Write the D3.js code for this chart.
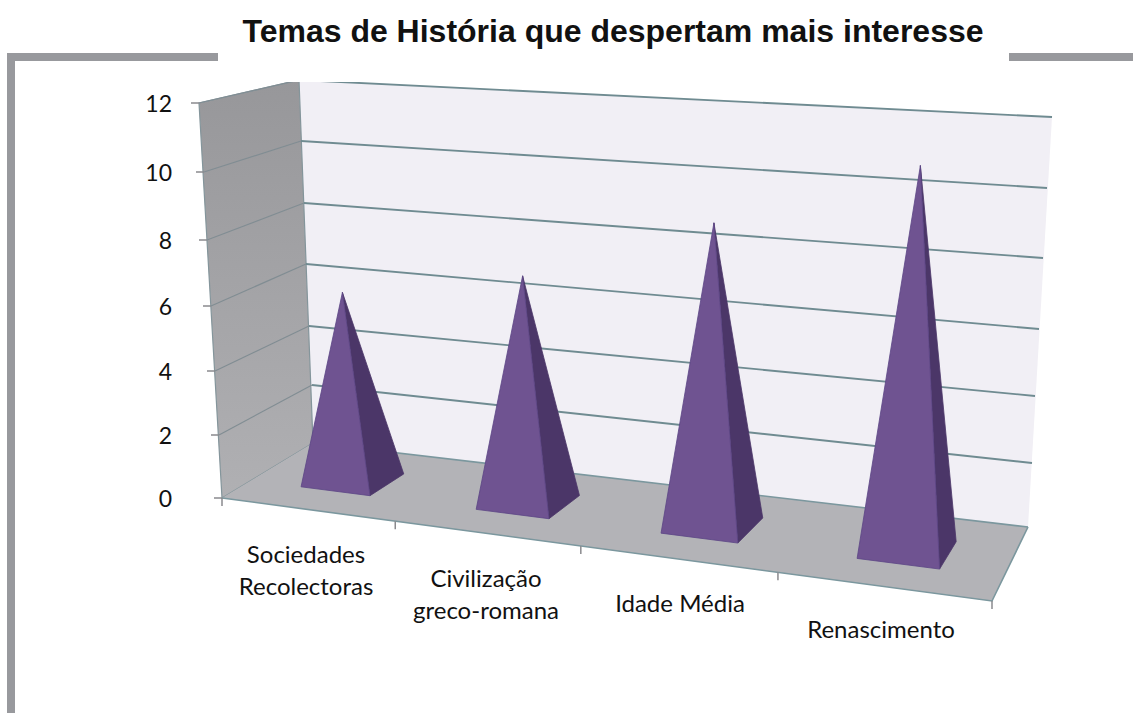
<!DOCTYPE html>
<html><head><meta charset="utf-8">
<script src="https://cdn.jsdelivr.net/npm/d3@7"></script>
<style>html,body{margin:0;background:#fff}svg{display:block}</style></head>
<body><svg id="c" width="1133" height="713"></svg>
<script>
const categories = [["Sociedades","Recolectoras"],["Civilização","greco-romana"],["Idade Média"],["Renascimento"]];
const values = [6, 7, 9, 11];
const yTicks = [0,2,4,6,8,10,12];
const title = "Temas de História que despertam mais interesse";

const svg = d3.select("#c");
const defs = svg.append("defs");
const ticksDomain = yTicks;
const corner = (xs, ys) => ({x:d3.scaleLinear().domain(ticksDomain).range(xs), y:d3.scaleLinear().domain(ticksDomain).range(ys)});
const FL = corner([222,219,215,211,207,204,199],[498,435,371,306,240,172,103]);
const BL = corner([313,312,309,306,304,301,299],[443,385,326,264,203,141,80]);
const BR = corner([1028,1032,1035,1039,1043,1047,1052],[527,463,396,329,258,188,117]);
const FR = corner([992,996,1000,1005,1009,1013,1018],[601,530,458,384,309,232,155]);
const catIdx = [0,1,2,3,4];
const frontFrac = d3.scaleLinear().domain(catIdx).range([0,.225,.466,.722,1]);
const backFrac = d3.scaleLinear().domain(catIdx).range([0,.238,.482,.735,1]);
function P(c,d,v){
  const uf=frontFrac(c), ub=backFrac(c);
  const fx=FL.x(v)+(FR.x(v)-FL.x(v))*uf, fy=FL.y(v)+(FR.y(v)-FL.y(v))*uf;
  const bx=BL.x(v)+(BR.x(v)-BL.x(v))*ub, by=BL.y(v)+(BR.y(v)-BL.y(v))*ub;
  return [fx+(bx-fx)*d, fy+(by-fy)*d];
}
const line = d3.line();
const closed = pts => line(pts)+"Z";

const gw = defs.append("linearGradient").attr("id","wall").attr("x1",0).attr("x2",0).attr("y1",0).attr("y2",1);
gw.append("stop").attr("offset",0).attr("stop-color","#97979a");
gw.append("stop").attr("offset",1).attr("stop-color","#b0b0b3");
defs.append("clipPath").attr("id","clip").append("rect").attr("x",0).attr("y",82).attr("width",1133).attr("height",631);

const plot = svg.append("g").attr("clip-path","url(#clip)");
plot.append("path").attr("d",closed([P(0,1,0),P(4,1,0),P(4,1,12),P(0,1,12)])).attr("fill","#f1eff5");
plot.append("path").attr("d",closed([P(0,0,0),P(0,1,0),P(0,1,12),P(0,0,12)])).attr("fill","url(#wall)").attr("stroke","#84959b").attr("stroke-width",1.2);
plot.append("path").attr("d",closed([P(0,0,0),P(4,0,0),P(4,1,0),P(0,1,0)])).attr("fill","#b3b3b7");
plot.append("path").attr("d",line([P(0,0,0),P(4,0,0),P(4,1,0)])).attr("fill","none").attr("stroke","#7b979e").attr("stroke-width",1.6);
plot.append("path").attr("d",line([P(0,1,0),P(4,1,0)])).attr("fill","none").attr("stroke","#7b979e").attr("stroke-width",1.6);
const gt = yTicks.filter(t=>t>0);
plot.selectAll("path.gb").data(gt).join("path").attr("class","gb").attr("d",t=>line([P(0,1,t),P(4,1,t)])).attr("fill","none").attr("stroke","#6f8b91").attr("stroke-width",1.9);
plot.selectAll("path.gs").data(gt).join("path").attr("class","gs").attr("d",t=>line([P(0,0,t),P(0,1,t)])).attr("fill","none").attr("stroke","#818d93").attr("stroke-width",1.2);
plot.selectAll("line.yt").data(yTicks).join("line").attr("class","yt")
 .attr("x1",t=>P(0,0,t)[0]-8).attr("x2",t=>P(0,0,t)[0]).attr("y1",t=>P(0,0,t)[1]).attr("y2",t=>P(0,0,t)[1]).attr("stroke","#8a8a8e").attr("stroke-width",1.5);
plot.selectAll("line.xt").data(catIdx).join("line").attr("class","xt")
 .attr("x1",c=>P(c,0,0)[0]).attr("x2",c=>P(c,0,0)[0]).attr("y1",c=>P(c,0,0)[1]).attr("y2",c=>P(c,0,0)[1]+8).attr("stroke","#8a8a8e").attr("stroke-width",1.5);

const halfW=.2, dFront=.32, dBack=.7, dMid=.51, cShift=.49, apexShift=.47;
const pyr = plot.selectAll("g.p").data(values).join("g").attr("class","p");
pyr.append("path").attr("d",(v,i)=>closed([P(i+cShift+halfW,dFront,0),P(i+cShift+halfW,dBack,0),P(i+apexShift,dMid,v)]))
  .attr("fill","#4b3668").attr("stroke","#4b3668").attr("stroke-width",.8);
pyr.append("path").attr("d",(v,i)=>closed([P(i+cShift-halfW,dFront,0),P(i+cShift+halfW,dFront,0),P(i+apexShift,dMid,v)]))
  .attr("fill","#6f5391").attr("stroke","#5c4585").attr("stroke-width",.8);

const sans="Lato, 'Open Sans', sans-serif";
svg.selectAll("text.y").data(yTicks).join("text").attr("class","y")
 .attr("x",172).attr("y",t=>P(0,0,t)[1]+9).attr("text-anchor","end").attr("font-family",sans).attr("font-size",23).attr("fill","#111").text(t=>t);
const labelAt = d3.scaleOrdinal().domain(d3.range(4)).range([[306,563],[486,587],[680,612],[881,638]]);
categories.forEach((ls,i)=>{
  ls.forEach((s,j)=>svg.append("text").attr("x",labelAt(i)[0]).attr("y",labelAt(i)[1]+j*32)
   .attr("text-anchor","middle").attr("font-family",sans).attr("font-size",24).attr("fill","#111").text(s));
});
svg.append("path").attr("d","M218,57H11V713").attr("fill","none").attr("stroke","#98999d").attr("stroke-width",8);
svg.append("path").attr("d","M1009,57H1133").attr("fill","none").attr("stroke","#98999d").attr("stroke-width",8);
svg.append("text").attr("x",613).attr("y",42).attr("text-anchor","middle").attr("font-family","'Liberation Sans',Arial,sans-serif").attr("font-weight","bold").attr("font-size",32).attr("fill","#111").text(title);
</script></body></html>
